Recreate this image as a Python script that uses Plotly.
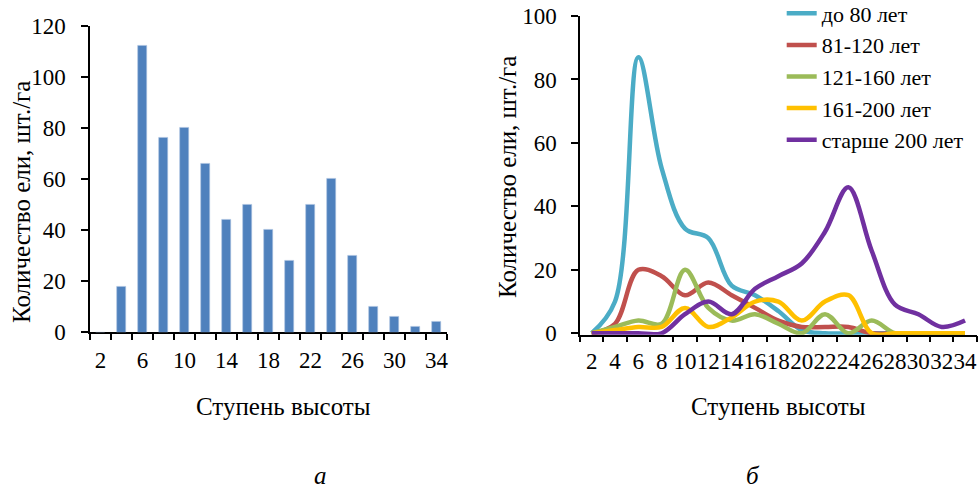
import plotly.graph_objects as go

# Height classes (ступень высоты), metres
heights = [2, 4, 6, 8, 10, 12, 14, 16, 18, 20, 22, 24, 26, 28, 30, 32, 34]

# (a) total spruce count per height class, trees/ha
total_count = [0, 18, 112, 76, 80, 66, 44, 50, 40, 28, 50, 60, 30, 10, 6, 2, 4]

# (б) spruce count per height class by age group, trees/ha
age_groups = ["до 80 лет", "81-120 лет", "121-160 лет", "161-200 лет", "старше 200 лет"]
age_upto_80 = [0, 10, 87, 52, 33, 30, 15, 12, 7, 1, 0, 0, 0, 0, 0, 0, 0]
age_81_120 = [0, 3, 20, 18, 12, 16, 12, 8, 4, 2, 2, 2, 0, 0, 0, 0, 0]
age_121_160 = [0, 2, 4, 3, 20, 8, 4, 6, 3, 0, 6, 0, 4, 0, 0, 0, 0]
age_161_200 = [0, 1, 2, 2, 8, 2, 5, 10, 10, 4, 10, 12, 0, 0, 0, 0, 0]
age_over_200 = [0, 0, 0, 0, 6, 10, 6, 14, 18, 22, 32, 46, 26, 9, 6, 2, 4]

left_ticks = [2, 6, 10, 14, 18, 22, 26, 30, 34]
y_left_ticks = [0, 20, 40, 60, 80, 100, 120]
y_right_ticks = [0, 20, 40, 60, 80, 100]

series = [age_upto_80, age_81_120, age_121_160, age_161_200, age_over_200]
colors = ["#4BACC6", "#C0504D", "#9BBB59", "#FFC000", "#7030A0"]

SERIF = "Liberation Serif"
W, H = 979, 493

fig = go.Figure()

fig.add_trace(go.Bar(
    x=heights, y=total_count, width=0.8,
    marker=dict(color="#4F81BD", line=dict(color="#A9C1E0", width=0.6)),
    showlegend=False, xaxis="x", yaxis="y",
))

for name, vals, col in zip(age_groups, series, colors):
    fig.add_trace(go.Scatter(
        x=heights, y=vals, name=name, mode="lines",
        line=dict(color=col, width=4.5, shape="spline", smoothing=1.0),
        xaxis="x2", yaxis="y2",
    ))

boundaries = [h - 1 for h in heights] + [heights[-1] + 1]

tick_font = dict(family=SERIF, size=23, color="black")
axis_common = dict(
    showgrid=False, zeroline=False, showline=True, linecolor="black",
    linewidth=1.5, layer="below traces", tickfont=tick_font, automargin=False,
)

fig.update_layout(
    template="none",
    width=W, height=H,
    margin=dict(l=0, r=0, t=0, b=0, autoexpand=False),
    paper_bgcolor="white", plot_bgcolor="white",
    font=dict(family=SERIF, color="black"),
    bargap=0,
    xaxis=dict(
        domain=[90 / W, 447 / W], range=[1, 35], anchor="y",
        tickmode="array", tickvals=left_ticks, ticks="", tickangle=0,
        ticklabelstandoff=6,
        minor=dict(tickmode="array", tickvals=boundaries, ticks="outside",
                   ticklen=6, tickwidth=1.5, tickcolor="black"),
        **axis_common,
    ),
    yaxis=dict(
        domain=[(H - 332.3) / H, (H - 25.7) / H], range=[0, 120], anchor="x",
        tickmode="array", tickvals=y_left_ticks, ticks="outside",
        ticklen=7, tickwidth=1.5, tickcolor="black", ticklabelstandoff=11,
        **axis_common,
    ),
    xaxis2=dict(
        domain=[580 / W, 976.7 / W], range=[1, 35], anchor="y2",
        tickmode="array", tickvals=heights, ticks="", tickangle=0,
        ticklabelstandoff=5,
        minor=dict(tickmode="array", tickvals=boundaries, ticks="outside",
                   ticklen=6, tickwidth=1.5, tickcolor="black"),
        **axis_common,
    ),
    yaxis2=dict(
        domain=[(H - 334.7) / H, (H - 16) / H], range=[-0.45, 100], anchor="x2",
        tickmode="array", tickvals=y_right_ticks, ticks="outside",
        ticklen=7, tickwidth=1.5, tickcolor="black", ticklabelstandoff=10,
        **axis_common,
    ),
    legend=dict(
        x=781.7 / W, xanchor="left", y=1 + 7.5 / H, yanchor="top",
        bgcolor="rgba(0,0,0,0)", borderwidth=0,
        font=dict(family=SERIF, size=22, color="black"),
        traceorder="normal", itemwidth=30,
    ),
)

title_font = dict(family=SERIF, size=25, color="black")
notes = [
    dict(text="Количество ели, шт./га", x=21 / W, y=(H - 202) / H, textangle=-90),
    dict(text="Количество ели, шт./га", x=508 / W, y=(H - 177) / H, textangle=-90),
    dict(text="Ступень высоты", x=283 / W, y=(H - 406) / H, textangle=0),
    dict(text="Ступень высоты", x=778 / W, y=(H - 406) / H, textangle=0),
    dict(text="<i>а</i>", x=320 / W, y=(H - 475.5) / H, textangle=0),
    dict(text="<i>б</i>", x=753 / W, y=(H - 475.5) / H, textangle=0),
]
for n in notes:
    fig.add_annotation(
        text=n["text"], x=n["x"], y=n["y"], xref="paper", yref="paper",
        xanchor="center", yanchor="middle", textangle=n["textangle"],
        showarrow=False, font=title_font,
    )

fig.write_html("out.html")
